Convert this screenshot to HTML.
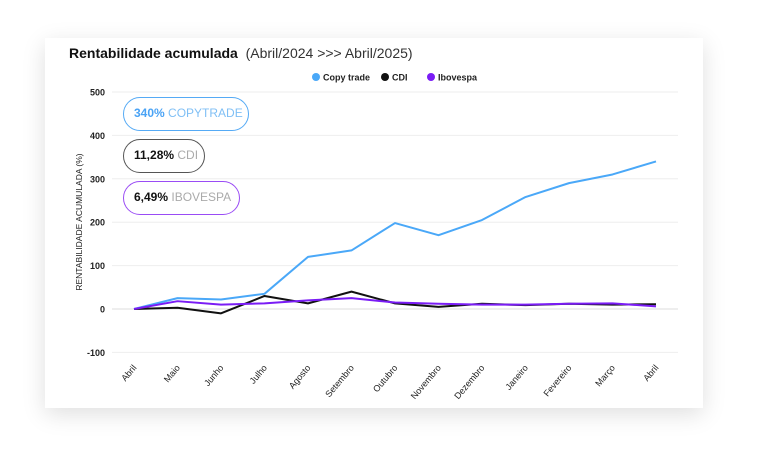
<!DOCTYPE html>
<html><head><meta charset="utf-8"><style>
body{margin:0;width:768px;height:470px;background:#fff;font-family:"Liberation Sans",sans-serif;overflow:hidden;position:relative}
.card{position:absolute;left:45px;top:38px;width:658px;height:370px;background:#fff;box-shadow:0 6px 22px rgba(0,0,0,0.13)}
.title{position:absolute;left:69px;top:45px;font-size:14px;color:#111}
.pill{position:absolute;left:123px;height:34px;border-radius:17px;border:1.5px solid;font-size:12px;line-height:31px;padding:0 0 0 10px;box-sizing:border-box;color:#aaa;background:#fff;white-space:nowrap;overflow:hidden}
.pill b{color:#111}
</style></head><body>
<div class="card"></div>
<div class="title"><b>Rentabilidade acumulada</b>&nbsp; <span style="color:#333">(Abril/2024 &gt;&gt;&gt; Abril/2025)</span></div>
<svg id="chart" width="768" height="470" style="position:absolute;left:0;top:0"></svg>
<div class="pill" style="top:97px;width:126px;border-color:#55aaf5;color:#7fbff5"><b style="color:#4aa3f5">340%</b> COPYTRADE</div>
<div class="pill" style="top:139px;width:82px;border-color:#555"><b>11,28%</b> CDI</div>
<div class="pill" style="top:181px;width:117px;border-color:#9a4cf5"><b>6,49%</b> IBOVESPA</div>
<script>
const categories=["Abril","Maio","Junho","Julho","Agosto","Setembro","Outubro","Novembro","Dezembro","Janeiro","Fevereiro","Março","Abril"];
const copyTrade=[0,25,22,35,120,135,198,170,205,258,290,310,340];
const cdi=[0,3,-10,30,13,40,13,5,12,9,12,10,11];
const ibovespa=[0,18,10,13,20,25,15,12,10,10,12,13,6];
const yTicks=[500,400,300,200,100,0,-100];
const seriesNames=["Copy trade","CDI","Ibovespa"];
const NS="http://www.w3.org/2000/svg";
const svg=document.getElementById('chart');
const x=i=>134+i*(656-134)/(categories.length-1);
const y=v=>309-v*0.434;
function mk(t,a,p){const e=document.createElementNS(NS,t);for(const k in a)e.setAttribute(k,a[k]);(p||svg).appendChild(e);return e;}
yTicks.forEach(v=>{
 const l=mk('line',{x1:112,x2:678,y1:y(v),y2:y(v),stroke:v===0?'#ddd':'#eee','stroke-width':1});
 
 
 const t=mk('text',{x:105,y:y(v)+3.5,'text-anchor':'end','font-size':9,'font-weight':'bold',fill:'#222'});
 t.textContent=v;
 
 
});
categories.forEach((c,i)=>{
 const t=mk('text',{x:x(i)+3,y:368,'text-anchor':'end','font-size':9,fill:'#222',transform:`rotate(-50 ${x(i)+3} 368)`});
 t.textContent=c;
 
 
});
const yt=mk('text',{x:82,y:222,'text-anchor':'middle','font-size':8.5,fill:'#222',transform:'rotate(-90 82 222)'});
yt.textContent='RENTABILIDADE ACUMULADA (%)';


const colors=['#4aa8f8','#111','#7a1cf5'];
[copyTrade,cdi,ibovespa].forEach((s,k)=>{
 const p=mk('polyline',{points:s.map((v,i)=>x(i)+','+y(v)).join(' '),fill:'none',stroke:colors[k],'stroke-width':2,'stroke-linejoin':'round'});
 
 
});
const lx=[316,385,431];
seriesNames.forEach((n,k)=>{
 const g=mk('g',{});
 
 
 mk('circle',{cx:lx[k],cy:77,r:4,fill:colors[k]},g);
 const t=mk('text',{x:lx[k]+7,y:80.5,'font-size':9,'font-weight':'bold',fill:'#222'},g);
 t.textContent=n;
});
</script>
</body></html>
